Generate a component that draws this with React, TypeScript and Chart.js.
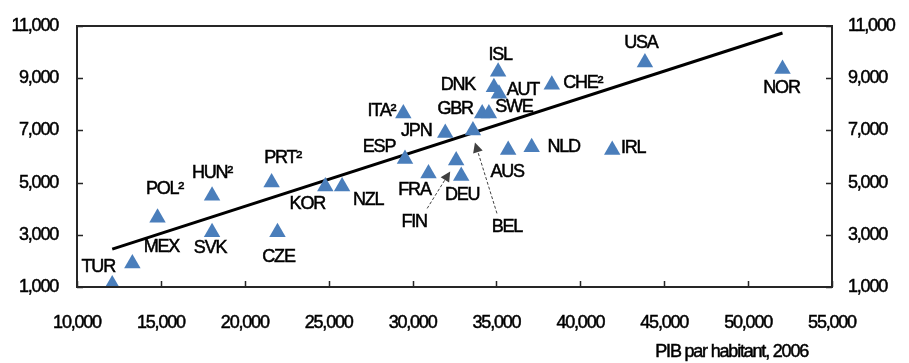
import { useEffect, useRef } from 'react';
import { Chart, registerables } from 'chart.js';
Chart.register(...registerables);

const countries = ['TUR', 'MEX', 'POL²', 'HUN²', 'SVK', 'PRT²', 'CZE', 'KOR', 'NZL', 'ESP', 'ITA²', 'FRA', 'FIN', 'DEU', 'JPN', 'BEL', 'GBR', 'SWE', 'DNK', 'ISL', 'AUT', 'AUS', 'NLD', 'CHE²', 'IRL', 'USA', 'NOR'];
const gdpPerCapita = [12100, 13300, 14800, 18050, 18050, 21600, 21950, 24800, 25800, 29550, 29450, 30950, 32600, 32900, 31950, 33600, 34150, 34550, 34850, 35100, 35150, 35700, 37100, 38300, 41900, 43850, 52050];
const yValues = [1100, 1900, 3650, 4500, 3100, 5000, 3100, 4850, 4850, 5900, 7650, 5350, 5850, 5250, 6900, 7000, 7650, 7650, 8650, 9250, 8400, 6250, 6350, 8750, 6250, 9600, 9350];
const trendX = [12100, 52050];
const trendY = [2450, 10730];
const xTickValues = [10000, 15000, 20000, 25000, 30000, 35000, 40000, 45000, 50000, 55000];
const yTickValues = [1000, 3000, 5000, 7000, 9000, 11000];
const xAxisTitle = 'PIB par habitant, 2006';

// label placement relative to each point (px)
const labelOffsets: Record<string, [number, number]> = {
  'TUR': [-14, -17], 'MEX': [29, -16], 'POL²': [7, -29], 'HUN²': [0, -23], 'SVK': [-2, 16],
  'PRT²': [11, -25], 'CZE': [1, 25], 'KOR': [-18, 18], 'NZL': [26, 14], 'ESP': [-26, -12],
  'ITA²': [-22, -2], 'FRA': [-14, 17], 'FIN': [-42, 62], 'DEU': [1, 19], 'JPN': [-29, -2],
  'BEL': [34, 97], 'GBR': [-27, -4], 'SWE': [25, -6], 'DNK': [-36, -2], 'ISL': [2, -17],
  'AUT': [24, -4], 'AUS': [-1, 22], 'NLD': [32, 0], 'CHE²': [31, -2], 'IRL': [21, -2],
  'USA': [-4, -20], 'NOR': [-1, 19],
};
const arrowSpecs: Record<string, [number, number, number, number]> = {
  'FIN': [-29, 48, -6, 11],
  'BEL': [24, 83, 2, 12],
};

const FONT = '"Liberation Sans", Arial, sans-serif';
const FONT_SIZE = 18;
const SPACING = '-1.2px';
const STROKE = 0.5;
const fmt = (v: number) => v.toLocaleString('en-US');

function setText(ctx: CanvasRenderingContext2D) {
  (ctx as any).letterSpacing = SPACING;
  ctx.font = FONT_SIZE + 'px ' + FONT;
  ctx.fillStyle = '#000';
  ctx.strokeStyle = '#000';
  ctx.lineWidth = STROKE;
}
function text(ctx: CanvasRenderingContext2D, s: string, x: number, y: number) {
  ctx.fillText(s, x, y);
  ctx.strokeText(s, x, y);
}

const framePlugin = {
  id: 'frame',
  afterDraw(chart: any) {
    const { ctx, chartArea } = chart;
    const { left, right, top, bottom } = chartArea;
    const xs = chart.scales.x;
    const ys = chart.scales.y;
    const ys2 = chart.scales.y2;
    ctx.save();
    ctx.strokeStyle = '#262626';
    ctx.lineWidth = 2;
    ctx.strokeRect(left, top, right - left, bottom - top);
    ctx.lineWidth = 1.5;
    ctx.beginPath();
    xTickValues.forEach((v) => {
      const px = Math.round(xs.getPixelForValue(v)) + 0.5;
      ctx.moveTo(px, bottom);
      ctx.lineTo(px, bottom - 6);
    });
    yTickValues.forEach((v) => {
      const py = Math.round(ys.getPixelForValue(v)) + 0.5;
      ctx.moveTo(left, py);
      ctx.lineTo(left + 6, py);
      const py2 = Math.round(ys2.getPixelForValue(v)) + 0.5;
      ctx.moveTo(right, py2);
      ctx.lineTo(right - 6, py2);
    });
    ctx.stroke();

    setText(ctx);
    ctx.textBaseline = 'middle';
    ctx.textAlign = 'center';
    xTickValues.forEach((v) => text(ctx, fmt(v), xs.getPixelForValue(v), bottom + 36));
    ctx.textAlign = 'right';
    yTickValues.forEach((v) => text(ctx, fmt(v), left - 19, ys.getPixelForValue(v)));
    ctx.textAlign = 'left';
    yTickValues.forEach((v) => text(ctx, fmt(v), right + 16, ys2.getPixelForValue(v)));
    ctx.textAlign = 'right';
    text(ctx, xAxisTitle, 808, 352);
    ctx.restore();
  },
  afterDatasetsDraw(chart: any) {
    const ctx = chart.ctx;
    const meta = chart.getDatasetMeta(0);
    ctx.save();
    setText(ctx);
    ctx.textAlign = 'center';
    ctx.textBaseline = 'middle';
    meta.data.forEach((el: any, i: number) => {
      const name = countries[i];
      const off = labelOffsets[name] || [0, -18];
      text(ctx, name, el.x + off[0], el.y + off[1]);
      const ar = arrowSpecs[name];
      if (ar) {
        const x1 = el.x + ar[0], y1 = el.y + ar[1];
        const x2 = el.x + ar[2], y2 = el.y + ar[3];
        const ang = Math.atan2(y2 - y1, x2 - x1);
        const hl = 10, hw = 5;
        const bx = x2 - Math.cos(ang) * hl, by = y2 - Math.sin(ang) * hl;
        ctx.save();
        ctx.strokeStyle = '#404040';
        ctx.fillStyle = '#404040';
        ctx.lineWidth = 1;
        ctx.setLineDash([3, 2]);
        ctx.beginPath();
        ctx.moveTo(x1, y1);
        ctx.lineTo(bx, by);
        ctx.stroke();
        ctx.setLineDash([]);
        ctx.beginPath();
        ctx.moveTo(x2, y2);
        ctx.lineTo(bx + Math.sin(ang) * hw, by - Math.cos(ang) * hw);
        ctx.lineTo(bx - Math.sin(ang) * hw, by + Math.cos(ang) * hw);
        ctx.closePath();
        ctx.fill();
        ctx.restore();
      }
    });
    ctx.restore();
  },
};

export default function App() {
  const ref = useRef<HTMLCanvasElement | null>(null);
  useEffect(() => {
    document.body.style.margin = '0';
    const canvas = ref.current;
    if (!canvas) return;
    const chart = new Chart(canvas, {
      type: 'scatter',
      data: {
        datasets: [
          {
            label: 'pays',
            data: gdpPerCapita.map((x, i) => ({ x, y: yValues[i] })),
            pointStyle: 'triangle',
            pointRadius: 9.5,
            pointBackgroundColor: '#4A7EBB',
            pointBorderColor: '#4A7EBB',
            pointBorderWidth: 0,
            order: 0,
          },
          {
            type: 'line',
            label: 'tendance',
            data: trendX.map((x, i) => ({ x, y: trendY[i] })),
            borderColor: '#000',
            borderWidth: 3,
            pointRadius: 0,
            fill: false,
            order: 1,
          } as any,
        ],
      },
      options: {
        responsive: false,
        animation: false,
        devicePixelRatio: 1,
        layout: { padding: { top: 26, left: 0, right: 0, bottom: 0 } },
        plugins: { legend: { display: false }, tooltip: { enabled: false } },
        scales: {
          x: {
            type: 'linear',
            min: 10000,
            max: 55000,
            grid: { display: false, drawTicks: false },
            border: { display: false },
            ticks: { display: false },
            afterFit: (s: any) => { s.height = 76; },
          },
          y: {
            type: 'linear',
            position: 'left',
            min: 1000,
            max: 11000,
            grid: { display: false, drawTicks: false },
            border: { display: false },
            ticks: { display: false },
            afterFit: (s: any) => { s.width = 77; },
          },
          y2: {
            type: 'linear',
            position: 'right',
            min: 1000,
            max: 11000,
            grid: { display: false, drawTicks: false },
            border: { display: false },
            ticks: { display: false },
            afterFit: (s: any) => { s.width = 77; },
          },
        },
      },
      plugins: [framePlugin],
    });
    return () => chart.destroy();
  }, []);
  return (
    <div style={{ width: 909, height: 363 }}>
      <canvas ref={ref} width={909} height={363} style={{ display: 'block' }} />
    </div>
  );
}
